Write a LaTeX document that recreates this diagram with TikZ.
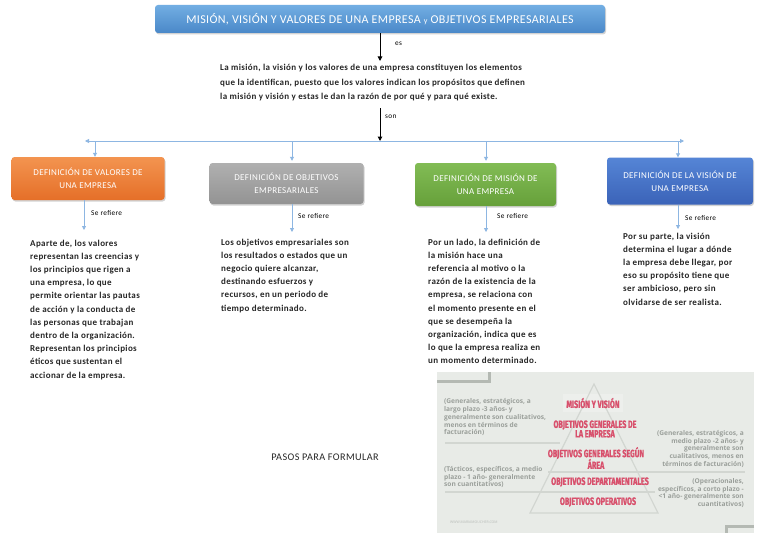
\documentclass[tikz,border=0pt]{standalone}
\usepackage{fontspec}
\setmainfont{Carlito}
\newfontfamily\spaced[LetterSpace=4]{Carlito}
\newfontfamily\spacedT[LetterSpace=3]{Carlito}
\newfontfamily\spacedS[LetterSpace=5]{Carlito}
\newfontfamily\pyrfont[FakeStretch=0.68,FakeBold=1.2]{Fira Sans}
\newfontfamily\osfont{Open Sans}
\usetikzlibrary{shadows,arrows.meta}
\definecolor{titleT}{HTML}{72AEE3}
\definecolor{titleB}{HTML}{4A88C8}
\definecolor{orT}{HTML}{F39450}
\definecolor{orB}{HTML}{E56F28}
\definecolor{grT}{HTML}{B0B0B0}
\definecolor{grB}{HTML}{939393}
\definecolor{gnT}{HTML}{82BC55}
\definecolor{gnB}{HTML}{66A03A}
\definecolor{blT}{HTML}{5585D6}
\definecolor{blB}{HTML}{3B63B8}
\definecolor{lineblue}{HTML}{8DB6E2}
\definecolor{picbg}{HTML}{E8EBE7}
\definecolor{picline}{HTML}{D2D6D1}
\definecolor{picgray}{HTML}{9A9F9A}
\definecolor{pink}{HTML}{D8506C}
\definecolor{bracket}{HTML}{B4B9B3}
\begin{document}
\begin{tikzpicture}[x=1pt,y=-1pt,
  box/.style={rounded corners=3pt, text=white, align=center, inner sep=2pt,
    font=\spaced\fontsize{9}{13}\selectfont,
    drop shadow={shadow xshift=1pt,shadow yshift=-1.5pt,opacity=0.35}},
  body/.style={anchor=north west, align=left, inner sep=0pt,
    font=\spaced\fontsize{9}{13.2}\selectfont\bfseries, text=black!85},
  blueline/.style={draw=lineblue, line width=0.8pt},
  bluearrow/.style={blueline, -{Triangle[width=4pt,length=4pt]}},
  blackarrow/.style={draw=black, line width=1pt, -{Triangle[width=4.5pt,length=4.5pt]}},
  lbl/.style={font=\spacedS\fontsize{7.3}{8}\selectfont, inner sep=0pt, anchor=west},
  pyr/.style={font=\pyrfont\bfseries\fontsize{10.5}{10.5}\selectfont, text=pink, inner sep=0pt, align=center},
  pnote/.style={font=\osfont\bfseries\fontsize{6.6}{7.8}\selectfont, text=picgray, inner sep=0pt},
]
\useasboundingbox (0,0) rectangle (768,543);
\fill[white] (0,0) rectangle (768,543);

% title
\node[box, top color=titleT, bottom color=titleB, minimum width=450pt, minimum height=28pt,
  font=\spacedT\fontsize{12}{13}\selectfont] (title) at (380,19)
  {MISIÓN, VISIÓN Y VALORES DE UNA EMPRESA {\fontsize{8}{8}\selectfont y} OBJETIVOS EMPRESARIALES};

\coordinate (esend) at (380,61);
\draw[blackarrow] (title.south) -- (esend);
\node[lbl] (es) at (395,44) {es};

\node[body, anchor=north west, font=\spaced\fontsize{9}{14.5}\selectfont\bfseries] (ctext) at (220,64)
 {La misión, la visión y los valores de una empresa constituyen los elementos\\
  que la identifican, puesto que los valores indican los propósitos que definen\\
  la misión y visión y estas le dan la razón de por qué y para qué existe.};

\coordinate (sontop) at (380,108);
\coordinate (hub) at (380,141);
\draw[blackarrow] (sontop) -- (hub);
\node[lbl] (son) at (385,117) {son};

\coordinate (hl) at (85,141);
\coordinate (hr) at (684,141);
\draw[bluearrow] (hub) -- (hl);
\draw[bluearrow] (hub) -- (hr);

% boxes
\node[box, top color=orT, bottom color=orB, minimum width=153pt, minimum height=43pt] (b1) at (88,178.5)
  {DEFINICIÓN DE VALORES DE\\UNA EMPRESA};
\node[box, top color=grT, bottom color=grB, minimum width=154pt, minimum height=41pt] (b2) at (286.5,183.5)
  {DEFINICIÓN DE OBJETIVOS\\EMPRESARIALES};
\node[box, top color=gnT, bottom color=gnB, minimum width=141pt, minimum height=43pt] (b3) at (485.5,184.5)
  {DEFINICIÓN DE MISIÓN DE\\UNA EMPRESA};
\node[box, top color=blT, bottom color=blB, minimum width=146pt, minimum height=47pt] (b4) at (680,181)
  {DEFINICIÓN DE LA VISIÓN DE\\UNA EMPRESA};

\coordinate (d1) at (95,141);
\coordinate (d2) at (292,141);
\coordinate (d3) at (486,141);
\coordinate (d4) at (678,141);
\draw[bluearrow] (d1) -- (d1 |- b1.north);
\draw[bluearrow] (d2) -- ([yshift=2pt]d2 |- b2.north);
\draw[bluearrow] (d3) -- ([yshift=2pt]d3 |- b3.north);
\draw[bluearrow] (d4) -- (d4 |- b4.north);

% se refiere
\coordinate (a1) at (84,230);
\coordinate (a2) at (292,232);
\coordinate (a3) at (486,232);
\coordinate (a4) at (678,229);
\draw[bluearrow] (a1 |- b1.south) -- (a1);
\draw[bluearrow] (a2 |- b2.south) -- (a2);
\draw[bluearrow] (a3 |- b3.south) -- (a3);
\draw[bluearrow] (a4 |- b4.south) -- (a4);
\node[lbl] (s1) at (91,213) {Se refiere};
\node[lbl] (s2) at (298,216) {Se refiere};
\node[lbl] (s3) at (497,216) {Se refiere};
\node[lbl] (s4) at (685,218) {Se refiere};

% body texts
\node[body] (t1) at (30,239.5)
 {Aparte de, los valores\\
  representan las creencias y\\
  los principios que rigen a\\
  una empresa, lo que\\
  permite orientar las pautas\\
  de acción y la conducta de\\
  las personas que trabajan\\
  dentro de la organización.\\
  Representan los principios\\
  éticos que sustentan el\\
  accionar de la empresa.};
\node[body] (t2) at (221,238.5)
 {Los objetivos empresariales son\\
  los resultados o estados que un\\
  negocio quiere alcanzar,\\
  destinando esfuerzos y\\
  recursos, en un periodo de\\
  tiempo determinado.};
\node[body] (t3) at (428,238.5)
 {Por un lado, la definición de\\
  la misión hace una\\
  referencia al motivo o la\\
  razón de la existencia de la\\
  empresa, se relaciona con\\
  el momento presente en el\\
  que se desempeña la\\
  organización, indica que es\\
  lo que la empresa realiza en\\
  un momento determinado.};
\node[body] (t4) at (623,232.5)
 {Por su parte, la visión\\
  determina el lugar a dónde\\
  la empresa debe llegar, por\\
  eso su propósito tiene que\\
  ser ambicioso, pero sin\\
  olvidarse de ser realista.};

\node[font=\spaced\fontsize{10.2}{11}\selectfont, text=black!85, inner sep=0pt] (pasos) at (325,457) {PASOS PARA FORMULAR};

% embedded picture
\fill[picbg] (437,372) rectangle (754,533);
\draw[bracket, line width=3pt] (437,381) -- (489,381) -- (489,372);
\draw[bracket, line width=3pt] (754,526) -- (726,526) -- (726,533);
\fill[picbg!80!white] (563,394) rectangle (623,412);
\draw[picline, line width=1.2pt] (594,384) -- (530,513) -- (658,513) -- cycle;
\draw[picline, line width=1.2pt] (445,443) -- (560,443);
\draw[picline, line width=1.2pt] (548,472) -- (745,472);
\draw[picline, line width=1.2pt] (445,492) -- (655,492);
\node[pyr] (p1) at (593,403) {MISIÓN Y VISIÓN};
\node[pyr] (p2) at (595,429) {OBJETIVOS GENERALES DE\\[-1pt]LA EMPRESA};
\node[pyr] (p3) at (596,458) {OBJETIVOS GENERALES SEGÚN\\[-1pt]ÁREA};
\node[pyr] (p4) at (600,482) {OBJETIVOS DEPARTAMENTALES};
\node[pyr] (p5) at (598,502) {OBJETIVOS OPERATIVOS};
\node[pnote, anchor=north west, align=left] (n1) at (444,398.5)
 {(Generales, estratégicos, a\\largo plazo -3 años- y\\generalmente son cualitativos,\\menos en términos de\\facturación)};
\node[pnote, anchor=north west, align=left] (n2) at (444,466)
 {(Tácticos, específicos, a medio\\plazo - 1 año- generalmente\\son cuantitativos)};
\node[pnote, anchor=north east, align=right] (n3) at (744,430)
 {(Generales, estratégicos, a\\medio plazo -2 años- y\\generalmente son\\cualitativos, menos en\\términos de facturación)};
\node[pnote, anchor=north east, align=right] (n4) at (744,478)
 {(Operacionales,\\específicos, a corto plazo -\\<1 año- generalmente son\\cuantitativos)};
\node[font=\osfont\fontsize{3.5}{4}\selectfont, text=picgray!70, inner sep=0pt, anchor=west] (web) at (450,522) {WWW.MARIAMOUCHER.COM};
\end{tikzpicture}
\end{document}
